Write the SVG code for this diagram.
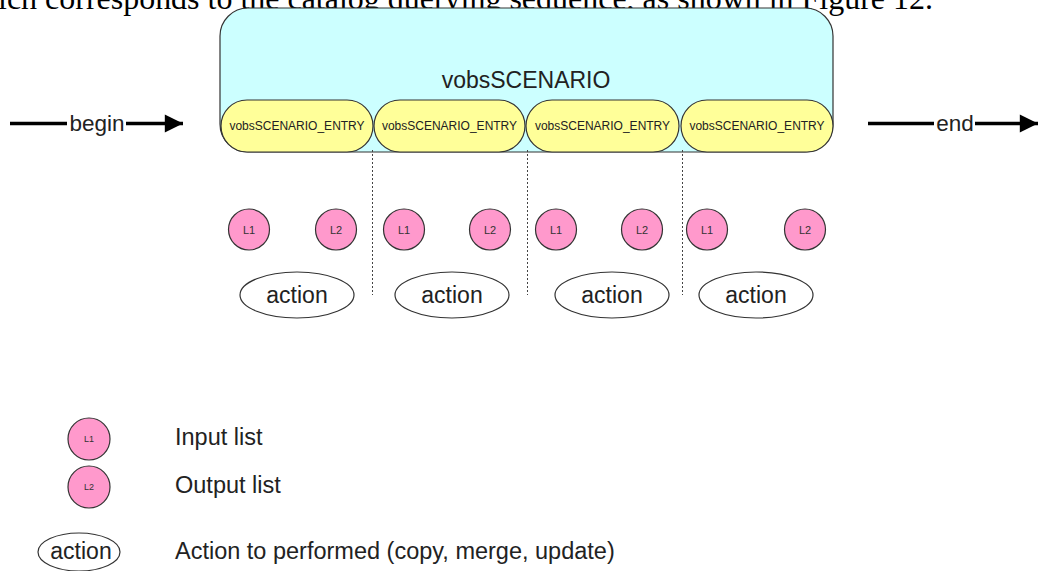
<svg xmlns="http://www.w3.org/2000/svg" width="1038" height="571" viewBox="0 0 1038 571">
<defs>
<style>
.sans{font-family:"Liberation Sans",Arial,sans-serif;fill:#222}
.entry{fill:#ffff99;stroke:#333;stroke-width:1.2}
.list{fill:#ff99cc;stroke:#333;stroke-width:1.2}
.act{fill:#fff;stroke:#333;stroke-width:1.2}
.dash{stroke:#444;stroke-width:1;stroke-dasharray:2,2;fill:none}
.thick{stroke:#000;stroke-width:3.5;fill:none}
.etext{font-size:12px;text-anchor:middle}
.ltext{font-size:11px;text-anchor:middle;fill:#333}
.atext{font-size:23px;text-anchor:middle}
.legend{font-size:23.5px}
</style>
<marker id="ah" viewBox="0 0 10 10" refX="10" refY="5" markerWidth="8" markerHeight="5.2" markerUnits="strokeWidth" orient="auto">
<path d="M0,0 L10,5 L0,10 z" fill="#000"/>
</marker>
</defs>
<rect width="1038" height="571" fill="#fff"/>
<text x="-2" y="9" textLength="935" lengthAdjust="spacingAndGlyphs" style="font-family:'Liberation Serif','Times New Roman',serif;font-size:32px;fill:#000">ich corresponds to the catalog querying sequence, as shown in Figure 12.</text>

<g id="scenario">
<rect x="220" y="8" width="613" height="144" rx="28" ry="28" fill="#ccffff" stroke="#333" stroke-width="1.2"/>
<text class="sans" x="526" y="88" style="font-size:23px;text-anchor:middle">vobsSCENARIO</text>
</g>
<g id="entry1"><rect class="entry" x="221" y="100" width="152" height="52" rx="26"/><text class="sans etext" x="297" y="130">vobsSCENARIO_ENTRY</text></g>
<g id="entry2"><rect class="entry" x="374" y="100" width="151" height="52" rx="26"/><text class="sans etext" x="449.5" y="130">vobsSCENARIO_ENTRY</text></g>
<g id="entry3"><rect class="entry" x="526" y="100" width="153" height="52" rx="26"/><text class="sans etext" x="602.5" y="130">vobsSCENARIO_ENTRY</text></g>
<g id="entry4"><rect class="entry" x="681" y="100" width="152" height="52" rx="26"/><text class="sans etext" x="757" y="130">vobsSCENARIO_ENTRY</text></g>

<g id="connectors">
<line class="thick" x1="10" y1="123.5" x2="67" y2="123.5"/>
<line class="thick" x1="126" y1="123.5" x2="183" y2="123.5" marker-end="url(#ah)"/>
<line class="thick" x1="868" y1="123.5" x2="934" y2="123.5"/>
<line class="thick" x1="975" y1="123.5" x2="1038" y2="123.5" marker-end="url(#ah)"/>
<line class="dash" x1="372.5" y1="150" x2="372.5" y2="295"/>
<line class="dash" x1="527.5" y1="150" x2="527.5" y2="295"/>
<line class="dash" x1="682.5" y1="150" x2="682.5" y2="295"/>
</g>
<g id="begin"><text class="sans" x="97" y="131" style="font-size:22.5px;text-anchor:middle">begin</text></g>
<g id="end"><text class="sans" x="955" y="131" style="font-size:22.5px;text-anchor:middle">end</text></g>

<g id="l1a"><ellipse class="list" cx="249" cy="229.5" rx="20.5" ry="20.5"/><text class="sans ltext" x="249" y="233.5">L1</text></g>
<g id="l2a"><ellipse class="list" cx="336" cy="229.5" rx="20.5" ry="20.5"/><text class="sans ltext" x="336" y="233.5">L2</text></g>
<g id="l1b"><ellipse class="list" cx="404" cy="229.5" rx="20.5" ry="20.5"/><text class="sans ltext" x="404" y="233.5">L1</text></g>
<g id="l2b"><ellipse class="list" cx="490" cy="229.5" rx="20.5" ry="20.5"/><text class="sans ltext" x="490" y="233.5">L2</text></g>
<g id="l1c"><ellipse class="list" cx="556" cy="229.5" rx="20.5" ry="20.5"/><text class="sans ltext" x="556" y="233.5">L1</text></g>
<g id="l2c"><ellipse class="list" cx="642" cy="229.5" rx="20.5" ry="20.5"/><text class="sans ltext" x="642" y="233.5">L2</text></g>
<g id="l1d"><ellipse class="list" cx="707" cy="229.5" rx="20.5" ry="20.5"/><text class="sans ltext" x="707" y="233.5">L1</text></g>
<g id="l2d"><ellipse class="list" cx="805" cy="229.5" rx="20.5" ry="20.5"/><text class="sans ltext" x="805" y="233.5">L2</text></g>

<g id="act1"><ellipse class="act" cx="297" cy="295" rx="57" ry="23"/><text class="sans atext" x="297" y="303">action</text></g>
<g id="act2"><ellipse class="act" cx="452" cy="295" rx="57" ry="23"/><text class="sans atext" x="452" y="303">action</text></g>
<g id="act3"><ellipse class="act" cx="612" cy="295" rx="57" ry="23"/><text class="sans atext" x="612" y="303">action</text></g>
<g id="act4"><ellipse class="act" cx="756" cy="295" rx="57" ry="23"/><text class="sans atext" x="756" y="303">action</text></g>

<g id="legend-l1"><ellipse class="list" cx="89" cy="439" rx="21" ry="21"/><text class="sans ltext" x="89" y="442" style="font-size:9px">L1</text><text class="sans legend" x="175" y="445">Input list</text></g>
<g id="legend-l2"><ellipse class="list" cx="89" cy="487" rx="21" ry="21"/><text class="sans ltext" x="89" y="490" style="font-size:9px">L2</text><text class="sans legend" x="175" y="493">Output list</text></g>
<g id="legend-act"><ellipse class="act" cx="79" cy="552" rx="41" ry="19"/><text class="sans" x="81" y="559" style="font-size:23px;text-anchor:middle">action</text><text class="sans legend" x="175" y="559">Action to performed (copy, merge, update)</text></g>
</svg>
